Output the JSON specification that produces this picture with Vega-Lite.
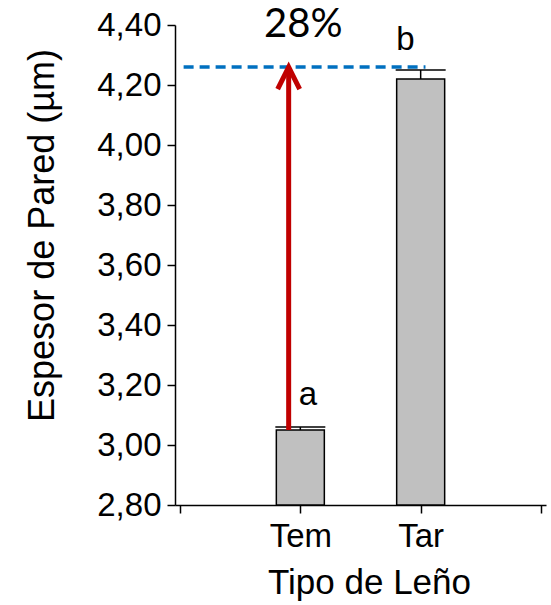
{
  "$schema": "https://vega.github.io/schema/vega-lite/v6.json",
  "width": 371,
  "height": 480,
  "autosize": "none",
  "padding": {"left": 175, "top": 25, "right": 5, "bottom": 100},
  "background": "white",
  "config": {
    "view": {"stroke": null},
    "font": "Liberation Sans",
    "axis": {
      "domainColor": "black",
      "domainWidth": 1.5,
      "tickColor": "black",
      "tickWidth": 1.5,
      "tickSize": 8,
      "grid": false,
      "labelColor": "black",
      "titleColor": "black",
      "labelFont": "Liberation Sans",
      "titleFont": "Liberation Sans",
      "titleFontWeight": "normal"
    }
  },
  "datasets": {
    "bars": [
      {"tipo": "Tem", "pos": 1, "valor": 3.05, "hi": 3.06, "letra": "a", "lx": 1.063, "ly": 3.133},
      {"tipo": "Tar", "pos": 2, "valor": 4.22, "hi": 4.25, "letra": "b", "lx": 1.873, "ly": 4.317}
    ],
    "ref": [
      {"x1": 0.03, "x2": 2.04, "y": 4.26}
    ],
    "arrow": [
      {"x": 0.903, "y1": 3.05, "y2": 4.255, "head": 4.223}
    ],
    "pct": [
      {"x": 1.025, "y": 4.359, "label": "28%"}
    ]
  },
  "layer": [
    {
      "data": {"name": "bars"},
      "mark": {"type": "bar", "fill": "#C0C0C0", "stroke": "black", "strokeWidth": 1.5, "size": 48},
      "encoding": {
        "x": {
          "field": "pos", "type": "quantitative",
          "scale": {"domain": [0, 3], "nice": false},
          "axis": {
            "values": [0, 1, 2, 3],
            "labelExpr": "datum.value == 1 ? 'Tem' : datum.value == 2 ? 'Tar' : ''",
            "labelFontSize": 33,
            "labelPadding": 7,
            "title": "Tipo de Leño",
            "titleFontSize": 35,
            "titleX": 194,
            "titleY": 88,
            "titleBaseline": "alphabetic"
          }
        },
        "y": {
          "field": "valor", "type": "quantitative",
          "scale": {"domain": [2.8, 4.4], "nice": false, "zero": false},
          "axis": {
            "values": [2.8, 3.0, 3.2, 3.4, 3.6, 3.8, 4.0, 4.2, 4.4],
            "labelExpr": "replace(format(datum.value, '.2f'), '.', ',')",
            "labelFontSize": 33,
            "labelPadding": 6,
            "title": "Espesor de Pared (µm)",
            "titleFontSize": 36,
            "titleX": -122,
            "titleY": 210,
            "titleBaseline": "alphabetic"
          }
        },
        "y2": {"datum": 2.8}
      }
    },
    {
      "data": {"name": "bars"},
      "mark": {"type": "rule", "stroke": "black", "strokeWidth": 1.5},
      "encoding": {
        "x": {"field": "pos", "type": "quantitative"},
        "y": {"field": "valor", "type": "quantitative"},
        "y2": {"field": "hi"}
      }
    },
    {
      "data": {"name": "bars"},
      "mark": {"type": "tick", "orient": "horizontal", "color": "black", "size": 50, "thickness": 1.5, "opacity": 1},
      "encoding": {
        "x": {"field": "pos", "type": "quantitative"},
        "y": {"field": "hi", "type": "quantitative"}
      }
    },
    {
      "data": {"name": "bars"},
      "mark": {"type": "text", "fontSize": 33, "font": "Liberation Sans", "color": "black", "align": "center", "baseline": "alphabetic"},
      "encoding": {
        "x": {"field": "lx", "type": "quantitative"},
        "y": {"field": "ly", "type": "quantitative"},
        "text": {"field": "letra"}
      }
    },
    {
      "data": {"name": "ref"},
      "mark": {"type": "rule", "stroke": "#0070C0", "strokeWidth": 3.5, "strokeDash": [10, 6]},
      "encoding": {
        "x": {"field": "x1", "type": "quantitative"},
        "x2": {"field": "x2"},
        "y": {"field": "y", "type": "quantitative"}
      }
    },
    {
      "data": {"name": "arrow"},
      "mark": {"type": "rule", "stroke": "#C00000", "strokeWidth": 5},
      "encoding": {
        "x": {"field": "x", "type": "quantitative"},
        "y": {"field": "y1", "type": "quantitative"},
        "y2": {"field": "y2"}
      }
    },
    {
      "data": {"name": "arrow"},
      "mark": {"type": "point", "shape": "M-1,1L0,-1L1,1", "size": 484, "filled": false, "stroke": "#C00000", "strokeWidth": 5, "opacity": 1, "strokeJoin": "miter"},
      "encoding": {
        "x": {"field": "x", "type": "quantitative"},
        "y": {"field": "head", "type": "quantitative"}
      }
    },
    {
      "data": {"name": "pct"},
      "mark": {"type": "text", "fontSize": 40, "font": "Lato", "color": "black", "align": "center", "baseline": "alphabetic"},
      "encoding": {
        "x": {"field": "x", "type": "quantitative"},
        "y": {"field": "y", "type": "quantitative"},
        "text": {"field": "label"}
      }
    }
  ]
}
